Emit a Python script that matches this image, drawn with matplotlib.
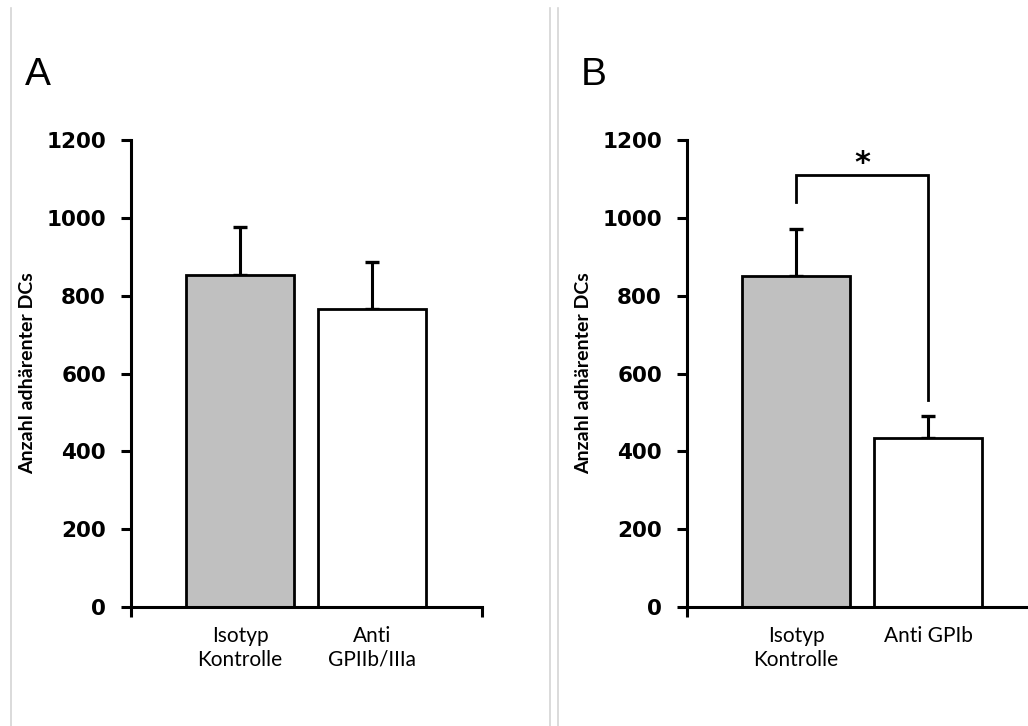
import matplotlib
matplotlib.use('Agg')
from matplotlib import pyplot as plt
from matplotlib.lines import Line2D

# Datos
gruppen_a = ['Isotyp\nKontrolle', 'Anti\nGPIIb/IIIa']
werte_a = [852, 767]
fehler_a = [124, 119]

gruppen_b = ['Isotyp\nKontrolle', 'Anti GPIb']
werte_b = [851, 433]
fehler_b = [120, 57]

farben = ['#c0c0c0', 'white']
yticks = [0, 200, 400, 600, 800, 1000, 1200]
ylabel = 'Anzahl adhärenter DCs'

W, H = 1028, 726
fig = plt.figure(figsize=(W / 100, H / 100), dpi=100)


def panel(left_px, gruppen, werte, fehler, buchstabe):
    # Achse in Pixelkoordinaten platzieren
    ax = fig.add_axes([left_px / W, (H - 607) / H, 351 / W, 467 / H])
    x = [1, 2]
    ax.bar(x, werte, width=0.82, color=farben, edgecolor='black', linewidth=2.0, zorder=2)
    ax.errorbar(x, werte, yerr=[[0, 0], fehler], fmt='none', ecolor='black',
                elinewidth=2.2, capsize=5, capthick=2.4, zorder=1)
    ax.set_xlim(0.174, 2.833)
    ax.set_ylim(0, 1200)
    ax.set_yticks(yticks)
    ax.set_yticklabels([str(v) for v in yticks], fontsize=15.5, fontweight='bold')
    ax.tick_params(axis='y', direction='out', length=7, width=2.2, pad=11)
    ax.set_xticks(x)
    ax.set_xticklabels(gruppen, fontsize=15, family=['Lato', 'DejaVu Sans'])
    ax.tick_params(axis='x', length=0, pad=14)
    ax.set_xticks([0.174, 2.833], minor=True)
    ax.tick_params(axis='x', which='minor', direction='out', length=7, width=2.2)
    for s in ['top', 'right']:
        ax.spines[s].set_visible(False)
    for s in ['left', 'bottom']:
        ax.spines[s].set_linewidth(2.2)
    ax.set_ylabel(ylabel, fontsize=14, fontweight='bold', family=['Lato', 'DejaVu Sans'])
    ax.yaxis.set_label_coords(-0.27, 0.5)
    fig.text((left_px - 93) / W, (H - 75) / H, buchstabe, fontsize=28,
             family=['Liberation Sans', 'DejaVu Sans'], ha='center', va='center')
    return ax


ax_a = panel(131, gruppen_a, werte_a, fehler_a, 'A')
ax_b = panel(687, gruppen_b, werte_b, fehler_b, 'B')

# Signifikanzklammer in Panel B
ax_b.plot([1.0, 1.0, 2.0, 2.0], [1040, 1110, 1110, 533], color='black', lw=2.0,
          clip_on=False, solid_joinstyle='miter')
ax_b.text(1.5, 1140, '*', ha='center', va='center', fontsize=22, fontweight='bold')

# graue Trennlinien
for xp in [11, 550, 558]:
    fig.add_artist(Line2D([xp / W, xp / W], [0, (H - 8) / H], color='#d4d4d4', lw=1.2))

plt.savefig('out.png', dpi=100)
